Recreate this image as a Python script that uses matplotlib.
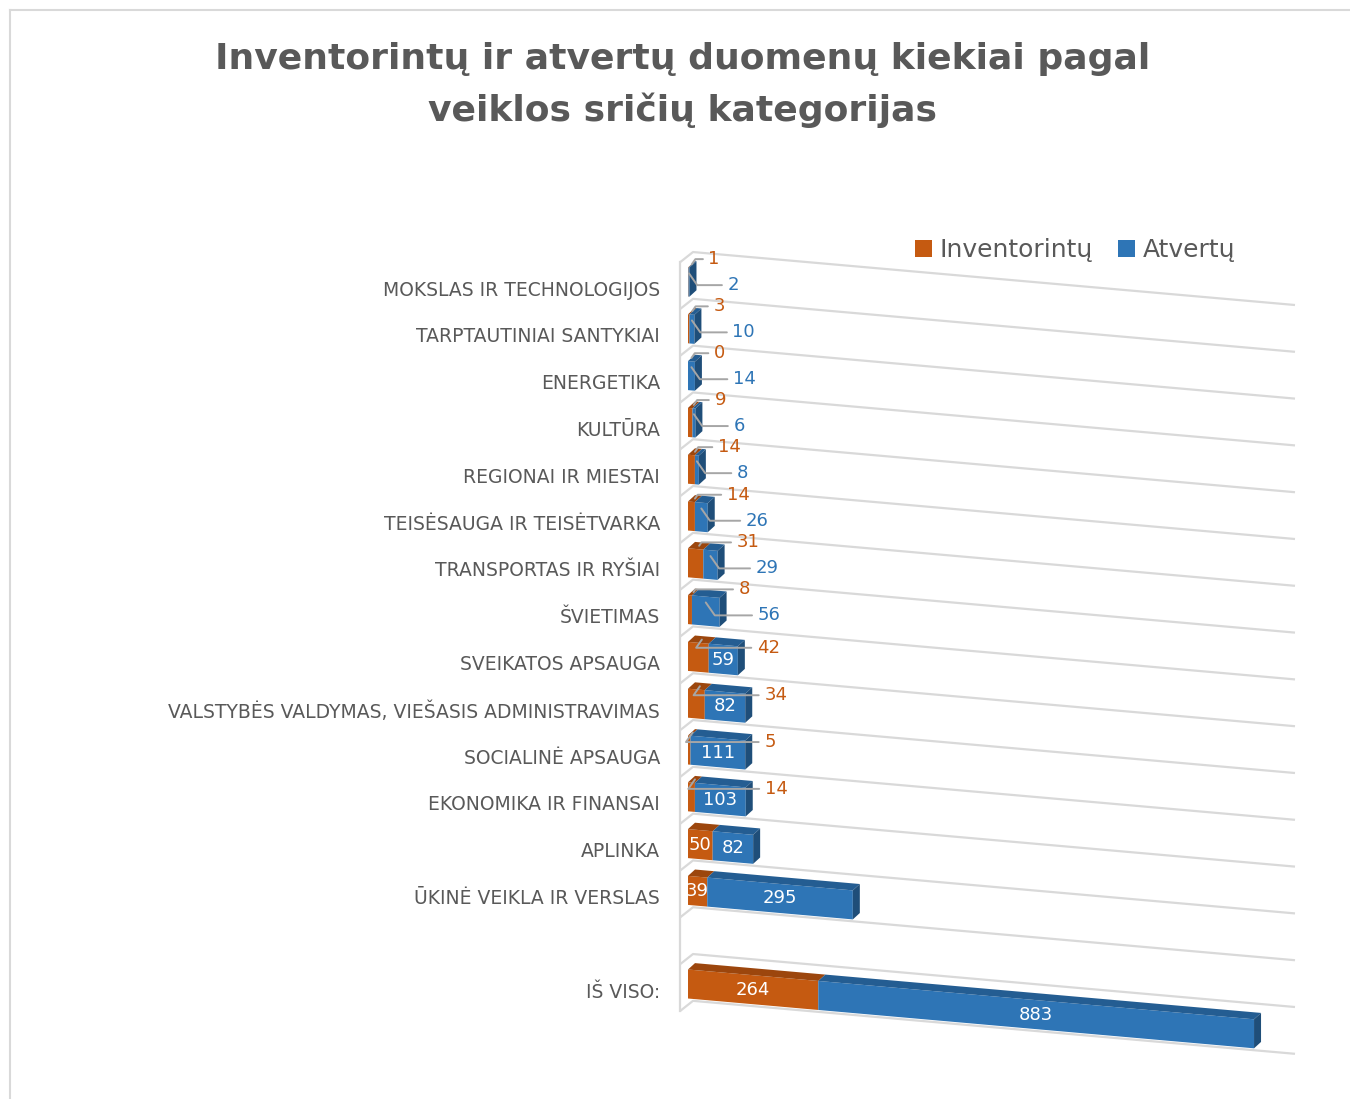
import numpy as np
import matplotlib
matplotlib.use("Agg")
import matplotlib.pyplot as plt
from matplotlib.transforms import Affine2D
from matplotlib.patches import Polygon, Patch
from matplotlib.lines import Line2D

# ---------------- data ----------------
categories = [
    "MOKSLAS IR TECHNOLOGIJOS",
    "TARPTAUTINIAI SANTYKIAI",
    "ENERGETIKA",
    "KULTŪRA",
    "REGIONAI IR MIESTAI",
    "TEISĖSAUGA IR TEISĖTVARKA",
    "TRANSPORTAS IR RYŠIAI",
    "ŠVIETIMAS",
    "SVEIKATOS APSAUGA",
    "VALSTYBĖS VALDYMAS, VIEŠASIS ADMINISTRAVIMAS",
    "SOCIALINĖ APSAUGA",
    "EKONOMIKA IR FINANSAI",
    "APLINKA",
    "ŪKINĖ VEIKLA IR VERSLAS",
]
inventorintu = [1, 3, 0, 9, 14, 14, 31, 8, 42, 34, 5, 14, 50, 39]
atvertu = [2, 10, 14, 6, 8, 26, 29, 56, 59, 82, 111, 103, 82, 295]
total_label = "IŠ VISO:"
total_inventorintu = 264
total_atvertu = 883
series_names = ["Inventorintų", "Atvertų"]
title = "Inventorintų ir atvertų duomenų kiekiai pagal\nveiklos sričių kategorijas"

# ---------------- styles ----------------
C_OR, C_OR_TOP = "#C55A11", "#9C460D"
C_BL, C_BL_TOP, C_BL_SIDE = "#2E75B6", "#245D92", "#1F4E79"
C_TXT = "#595959"
C_GRID = "#D9D9D9"
C_LEAD = "#A6A6A6"

rows = list(range(len(categories))) + [len(categories) + 1]
labels = categories + [total_label]
inv = inventorintu + [total_inventorintu]
atv = atvertu + [total_atvertu]

W, H = 1350, 1099
fig = plt.figure(figsize=(W / 100, H / 100), dpi=100)
fig.patch.set_facecolor("white")

x_left, x_right = 688, 1295
y_top, y_bot = 258.6, 1007.4
ax = fig.add_axes([x_left / W, 1 - y_bot / H, (x_right - x_left) / W, (y_bot - y_top) / H])
XMAX = 1230
ax.set_xlim(0, XMAX)
ax.set_ylim(15.5, -0.5)
ax.set_facecolor("none")

px_x = (x_right - x_left) / XMAX
px_row = (y_bot - y_top) / 16
slope = 0.088
s = -slope * (x_right - x_left) / (y_bot - y_top)
shear = Affine2D.from_values(1, s, 0, 1, 0, 0)
skewT = ax.transScale + ax.transLimits + shear + ax.transAxes

DX = 7 / px_x
DY = 7 / px_row
BH = 0.62

# grid lines on back wall, plus left wall
xf = -8 / px_x
xb = 5 / px_x
for b in np.arange(-0.5, 16.0, 1.0):
    ax.plot([xf, xb, XMAX], [b + 4.4 / px_row, b - DY, b - DY], color=C_GRID,
            lw=1.6, transform=skewT, clip_on=False, zorder=1, solid_capstyle="butt")
ax.plot([xf, xf], [-0.5 + 4.4 / px_row, 15.5 + 4.4 / px_row], color=C_GRID, lw=1.6,
        transform=skewT, clip_on=False, zorder=1)

# bars (front faces)
b_inv = ax.barh(rows, inv, height=BH, color=C_OR, zorder=3)
b_atv = ax.barh(rows, atv, left=inv, height=BH, color=C_BL, zorder=3)
for p in list(b_inv) + list(b_atv):
    p.set_transform(skewT)
    p.set_clip_on(False)

# 3D faces
for r, a, b in zip(rows, inv, atv):
    top = r - BH / 2
    if a > 0:
        ax.add_patch(Polygon([(0, top), (a, top), (a + DX, top - DY), (DX, top - DY)],
                             closed=True, facecolor=C_OR_TOP, edgecolor="none",
                             transform=skewT, clip_on=False, zorder=3))
    ax.add_patch(Polygon([(a, top), (a + b, top), (a + b + DX, top - DY), (a + DX, top - DY)],
                         closed=True, facecolor=C_BL_TOP, edgecolor="none",
                         transform=skewT, clip_on=False, zorder=3))
    ax.add_patch(Polygon([(a + b, top), (a + b, top + BH), (a + b + DX, top + BH - DY),
                          (a + b + DX, top - DY)],
                         closed=True, facecolor=C_BL_SIDE, edgecolor="none",
                         transform=skewT, clip_on=False, zorder=3))

# data labels
FS = 13
for k, (r, a, b) in enumerate(zip(rows, inv, atv)):
    tot = a + b
    inside_inv = k >= 12
    inside_atv = k >= 8
    if inside_inv:
        ax.text(a / 2, r, f"{a}", transform=skewT, ha="center", va="center",
                color="white", fontsize=FS, zorder=5)
    else:
        dy = 23 if k < 8 else 13
        ax.annotate(f"{a}", xy=(a / 2 + DX / 2, r - BH / 2 - DY / 2), xycoords=skewT,
                    xytext=(tot, r), textcoords=skewT + Affine2D().translate(19, dy),
                    ha="left", va="center", color=C_OR, fontsize=FS, zorder=5,
                    arrowprops=dict(arrowstyle="-", color=C_LEAD, lw=1.4, relpos=(0, 0.5),
                                    shrinkA=2, shrinkB=0,
                                    connectionstyle="angle,angleA=0,angleB=55,rad=0"))
    if inside_atv:
        ax.text(a + b / 2, r, f"{b}", transform=skewT, ha="center", va="center",
                color="white", fontsize=FS, zorder=5)
    else:
        ax.annotate(f"{b}", xy=(a + b / 2, r - BH * 0.3), xycoords=skewT,
                    xytext=(tot, r), textcoords=skewT + Affine2D().translate(38, -3),
                    ha="left", va="center", color=C_BL, fontsize=FS, zorder=5,
                    arrowprops=dict(arrowstyle="-", color=C_LEAD, lw=1.4, relpos=(0, 0.5),
                                    shrinkA=2, shrinkB=0,
                                    connectionstyle="angle,angleA=0,angleB=-55,rad=0"))

# axes cosmetics
ax.set_yticks([r + 0.13 for r in rows])
ax.set_yticklabels(labels, fontsize=13.5, color=C_TXT)
ax.tick_params(axis="y", length=0, pad=20)
ax.set_xticks([])
for sp in ax.spines.values():
    sp.set_visible(False)

# legend
handles = [Patch(facecolor=C_OR), Patch(facecolor=C_BL)]
fig.legend(handles, series_names, loc="center", bbox_to_anchor=(1075 / W, 1 - 250 / H),
           ncol=2, frameon=False, fontsize=18, handlelength=0.7, handleheight=0.7,
           handletextpad=0.3, columnspacing=1.0, labelcolor=C_TXT)

# title
fig.text(683 / W, 1 - 85 / H, title, ha="center", va="center", fontsize=26,
         fontweight="bold", color=C_TXT, linespacing=1.55)

# chart frame
fig.add_artist(Line2D([10 / W, 10 / W], [0, 1 - 10 / H], transform=fig.transFigure,
                      color=C_GRID, lw=1.5))
fig.add_artist(Line2D([10 / W, 1], [1 - 10 / H, 1 - 10 / H], transform=fig.transFigure,
                      color=C_GRID, lw=1.5))

fig.savefig("out.png", dpi=100)
